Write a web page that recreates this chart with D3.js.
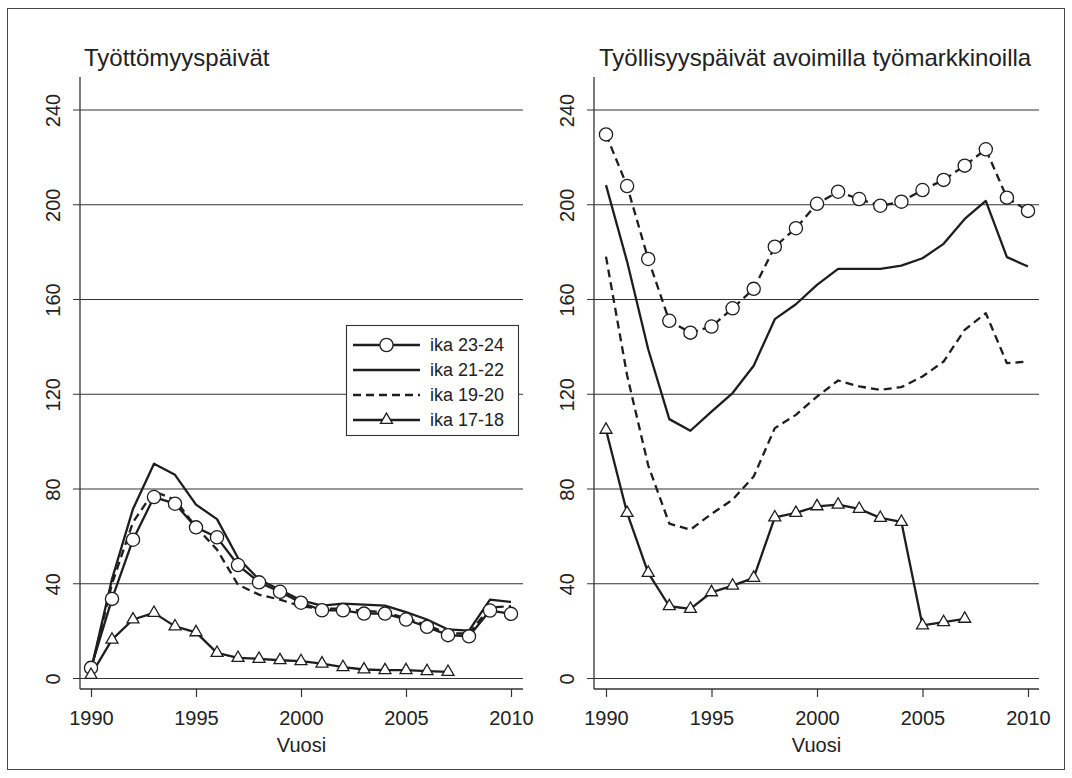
<!DOCTYPE html>
<html><head><meta charset="utf-8">
<script src="https://cdn.jsdelivr.net/npm/d3@7"></script>
<style>
body{margin:0;background:#fff;}
svg{display:block;font-family:"Liberation Sans",Arial,Helvetica,sans-serif;}
</style></head>
<body>
<svg id="c" width="1072" height="778"></svg>
<script>
// ---- data ----
const years = [1990,1991,1992,1993,1994,1995,1996,1997,1998,1999,2000,2001,2002,2003,2004,2005,2006,2007,2008,2009,2010];
const years1718 = [1990,1991,1992,1993,1994,1995,1996,1997,1998,1999,2000,2001,2002,2003,2004,2005,2006,2007];
const xTicks = [1990,1995,2000,2005,2010];
const yTicks = [0,40,80,120,160,200,240];
const seriesNames = ["ika 23-24","ika 21-22","ika 19-20","ika 17-18"];
const panelTitles = ["Työttömyyspäivät","Työllisyyspäivät avoimilla työmarkkinoilla"];
const xTitle = "Vuosi";

// Left panel: Työttömyyspäivät
const unemp2324 = [4.5,33.6,58.6,76.6,73.8,63.8,59.6,47.9,40.6,36.6,32.0,28.8,28.8,27.4,27.4,24.9,21.8,18.3,17.8,28.7,27.3];
const unemp2122 = [3.5,42,71.6,90.7,86,73.4,67.3,50.9,41.8,37.5,33.0,30.8,31.6,31.2,30.8,28,24.9,20.7,20.2,33.3,32.3];
const unemp1920 = [3.5,40,66,79,75.5,64,54.4,39.6,35.4,33.3,30.5,29.5,29.5,28.5,28,25.5,22.5,19,19,30,30.5];
const unemp1718 = [1.5,16.4,24.9,27.7,22,19.5,10.8,8.7,8.3,7.7,7.3,6.3,4.8,3.8,3.5,3.5,3.1,2.8];

// Right panel: Työllisyyspäivät avoimilla työmarkkinoilla
const emp2324 = [229.7,207.9,177.1,151,146,148.6,156.3,164.5,182.3,190.1,200.4,205.5,202.4,199.6,201.3,206.2,210.5,216.5,223.4,203,197.4];
const emp2122 = [208.3,176,139,109.5,104.6,112.7,120.5,132,151.7,158,166.2,172.9,172.9,172.9,174.3,177.4,183.5,194,201.6,177.9,173.9];
const emp1920 = [178.1,128,90,65.4,62.8,69.5,75.5,85.3,105.7,111.3,119,125.8,123.3,121.9,123,127.5,133.8,147.2,154.2,133.1,133.8];
const emp1718 = [105,69.9,44.6,30.5,29.4,36.4,39.2,42.5,68,69.9,72.7,73.4,71.6,67.8,66.1,22.4,23.8,25.2];

// ---- drawing ----
const svg = d3.select("#c");
const ink = "#1e1e1e", gridCol = "#333";

svg.append("rect").attr("x",7.5).attr("y",8.5).attr("width",1057).attr("height",761)
  .attr("fill","none").attr("stroke","#444").attr("stroke-width",1);

const panels = [
  {axisX:80, x0:91, x1:511, right:523, title:panelTitles[0], titleX:84,
   series:[{v:unemp2324,yr:years,dash:null,marker:"circle"},
           {v:unemp2122,yr:years,dash:null,marker:null},
           {v:unemp1920,yr:years,dash:"8,5",marker:null},
           {v:unemp1718,yr:years1718,dash:null,marker:"triangle"}]},
  {axisX:594, x0:606, x1:1028, right:1039, title:panelTitles[1], titleX:599,
   series:[{v:emp2324,yr:years,dash:"8,5",marker:"circle"},
           {v:emp2122,yr:years,dash:null,marker:null},
           {v:emp1920,yr:years,dash:"8,5",marker:null},
           {v:emp1718,yr:years1718,dash:null,marker:"triangle"}]}
];

const y = d3.scaleLinear().domain([0,240]).range([678.5,110]);
const axisY = 689, axisTop = 77;
const tri = d3.symbol().type(d3.symbolTriangle).size(62);

panels.forEach(p => {
  const x = d3.scaleLinear().domain([1990,2010]).range([p.x0,p.x1]);
  const g = svg.append("g");

  // gridlines
  g.selectAll("line.grid").data(yTicks).join("line")
    .attr("x1",p.axisX-7).attr("x2",p.right)
    .attr("y1",d=>y(d)).attr("y2",d=>y(d))
    .attr("stroke",gridCol).attr("stroke-width",1.1);

  // axis lines
  g.append("line").attr("x1",p.axisX).attr("x2",p.axisX).attr("y1",axisTop).attr("y2",axisY)
    .attr("stroke",gridCol).attr("stroke-width",1.3);
  g.append("line").attr("x1",p.axisX).attr("x2",p.right).attr("y1",axisY).attr("y2",axisY)
    .attr("stroke",gridCol).attr("stroke-width",1.3);

  // y tick labels
  const ya = g.append("g").attr("transform",`translate(${p.axisX},0)`)
    .call(d3.axisLeft(y).tickValues(yTicks).tickSize(0).tickFormat(d3.format("d")));
  ya.select(".domain").remove();
  ya.selectAll("text").attr("transform","rotate(-90)").attr("x",0).attr("y",-20).attr("dy",0)
    .attr("text-anchor","middle").attr("font-size",20).attr("fill","#222")
    .attr("font-family","Liberation Sans, Arial, sans-serif");

  // x axis
  const xa = g.append("g").attr("transform",`translate(0,${axisY})`)
    .call(d3.axisBottom(x).tickValues(xTicks).tickSize(8).tickPadding(10).tickFormat(d3.format("d")));
  xa.select(".domain").remove();
  xa.selectAll("line").attr("stroke",gridCol).attr("stroke-width",1.2);
  xa.selectAll("text").attr("font-size",20).attr("fill","#222")
    .attr("font-family","Liberation Sans, Arial, sans-serif").attr("dy","0.9em");

  g.append("text").attr("x",(p.axisX+p.right)/2).attr("y",752).attr("text-anchor","middle")
    .attr("font-size",20).attr("fill","#222").text(xTitle);

  g.append("text").attr("x",p.titleX).attr("y",66).attr("font-size",24).attr("fill","#222").text(p.title);

  // lines
  const line = d3.line().x(d=>x(d[0])).y(d=>y(d[1]));
  p.series.forEach(s => {
    const pts = s.yr.map((yr,i)=>[yr,s.v[i]]);
    g.append("path").attr("d",line(pts)).attr("fill","none").attr("stroke",ink)
      .attr("stroke-width",2.3).attr("stroke-linejoin","round")
      .attr("stroke-dasharray",s.dash);
  });
  // markers
  p.series.forEach(s => {
    const pts = s.yr.map((yr,i)=>[yr,s.v[i]]);
    if (s.marker==="circle") {
      g.selectAll(null).data(pts).join("circle")
        .attr("cx",d=>x(d[0])).attr("cy",d=>y(d[1])).attr("r",6.6)
        .attr("fill","#fff").attr("stroke",ink).attr("stroke-width",1.3);
    } else if (s.marker==="triangle") {
      g.selectAll(null).data(pts).join("path")
        .attr("d",tri).attr("transform",d=>`translate(${x(d[0])},${y(d[1])})`)
        .attr("fill","#fff").attr("stroke",ink).attr("stroke-width",1.3);
    }
  });
});

// legend
const lg = svg.append("g");
lg.append("rect").attr("x",346.5).attr("y",325.5).attr("width",172).attr("height",110)
  .attr("fill","#fff").attr("stroke","#333").attr("stroke-width",1.1);
const legendStyles = [
  {dash:null,marker:"circle"},{dash:null,marker:null},{dash:"8,5",marker:null},{dash:null,marker:"triangle"}
];
seriesNames.forEach((name,i) => {
  const ry = 345 + i*25;
  const st = legendStyles[i];
  lg.append("line").attr("x1",353).attr("x2",420).attr("y1",ry).attr("y2",ry)
    .attr("stroke",ink).attr("stroke-width",2.3).attr("stroke-dasharray",st.dash);
  if (st.marker==="circle") lg.append("circle").attr("cx",386.5).attr("cy",ry).attr("r",6.6)
    .attr("fill","#fff").attr("stroke",ink).attr("stroke-width",1.3);
  if (st.marker==="triangle") lg.append("path").attr("d",tri).attr("transform",`translate(386.5,${ry})`)
    .attr("fill","#fff").attr("stroke",ink).attr("stroke-width",1.3);
  lg.append("text").attr("x",430).attr("y",ry).attr("dy","0.36em").attr("font-size",18)
    .attr("fill","#222").text(name);
});
</script>
</body></html>
